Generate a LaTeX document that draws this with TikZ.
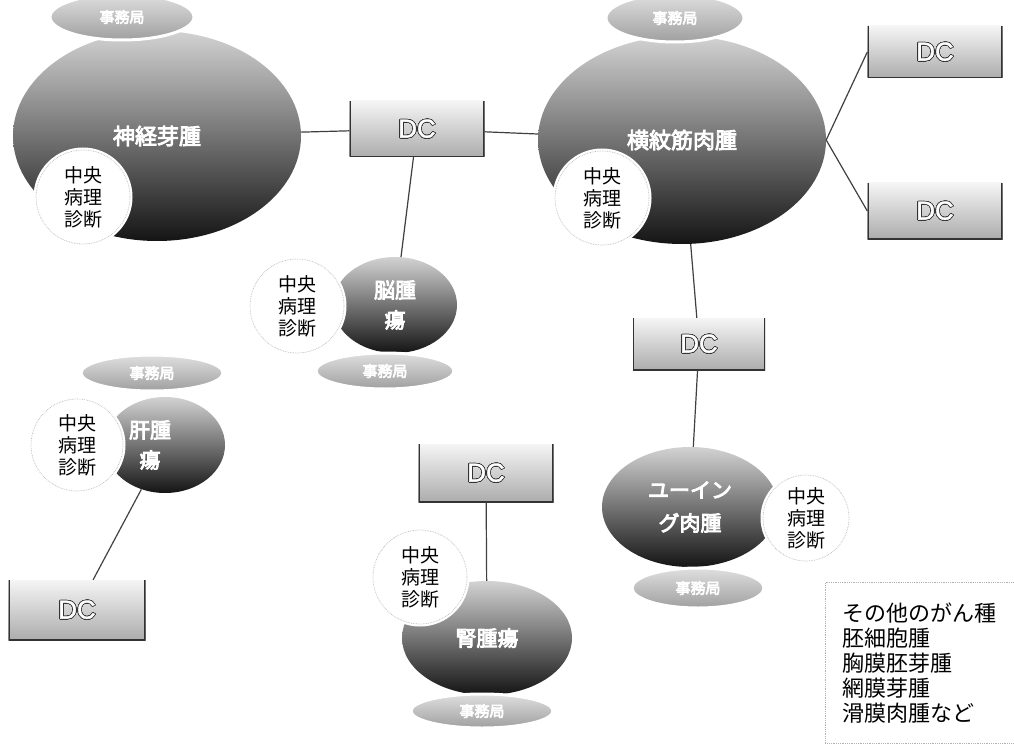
\documentclass[tikz,border=0pt]{standalone}
\usepackage{fontspec}
\usepackage[copies]{contour}
\contourlength{0.7pt}
\newfontfamily\cjk{Noto Sans CJK JP}
\newfontfamily\cjkb{Noto Sans CJK JP}[FakeBold=4]
\newfontfamily\dcfont{Liberation Sans}[FakeBold=1.5]
\usetikzlibrary{shapes.geometric}
\tikzset{
  blob/.style={ellipse, top color=gray!35, bottom color=black!92, text=white,
    font=\cjkb\fontsize{22}{27}\selectfont, inner sep=0pt, align=center},
  office/.style={ellipse, top color=gray!25, bottom color=gray!75, draw=white,
    line width=3pt, text=white, font=\cjkb\fontsize{15}{15}\selectfont, inner sep=0pt},
  patho/.style={circle, fill=white, draw=white, line width=5pt,
    postaction={draw=gray!55, densely dotted, line width=0.7pt},
    text=black, font=\cjk\fontsize{19}{22}\selectfont, align=center,
    inner sep=0pt, minimum size=94pt},
  dcbox/.style={rectangle, top color=gray!8, bottom color=gray!65,
    minimum width=135pt, minimum height=56pt, text=white,
    font=\dcfont\fontsize{26}{26}\selectfont,
    path picture={\draw[gray!40!black, line width=2.5pt]
      (path picture bounding box.north west) -- (path picture bounding box.south west)
      -- (path picture bounding box.south east) -- (path picture bounding box.north east);}},
  conn/.style={draw=gray!50!black, line width=1.2pt},
  otherbox/.style={draw=gray!60, densely dotted, line width=0.8pt, anchor=north west,
    minimum height=161pt, text width=165pt, inner xsep=17pt, align=left,
    font=\cjk\fontsize{22}{25}\selectfont}
}
\newcommand{\dctext}{\contour{gray!40!black}{DC}}
\begin{document}
\begin{tikzpicture}[x=1pt,y=-1pt]
\fill[white, use as bounding box] (0,0) rectangle (1014,746);

% Neuroblastoma
\node[blob, minimum width=288pt, minimum height=210pt] (nb) at (157,136) {神経芽腫};
\node[office, minimum width=144pt, minimum height=46pt] (nbo) at (122,17) {事務局};
\node[patho] (nbp) at (83,197) {中央\\病理\\診断};

% Rhabdomyosarcoma
\node[blob, minimum width=288pt, minimum height=208pt] (rh) at (682,140) {横紋筋肉腫};
\node[office, minimum width=138pt, minimum height=48pt] (rho) at (675,18) {事務局};
\node[patho] (rhp) at (602,198) {中央\\病理\\診断};

% DC boxes
\node[dcbox] (dc1) at (417,129) {\dctext};
\node[dcbox, minimum height=52pt] (dc2) at (935,52) {\dctext};
\node[dcbox, minimum height=56pt] (dc3) at (935,211) {\dctext};
\node[dcbox, minimum width=132pt, minimum height=52pt] (dc4) at (699,344) {\dctext};
\node[dcbox, minimum width=137pt, minimum height=60pt] (dc5) at (77,610) {\dctext};
\node[dcbox, minimum height=58pt] (dc6) at (486,473) {\dctext};

% Brain tumour
\node[blob, font=\cjkb\fontsize{21}{30}\selectfont, minimum width=124pt, minimum height=96pt] (br) at (395,305) {脳腫\\瘍};
\node[office, minimum width=138pt, minimum height=36pt] (bro) at (385,371) {事務局};
\node[patho] (brp) at (297,306) {中央\\病理\\診断};

% Liver tumour
\node[blob, font=\cjkb\fontsize{21}{30}\selectfont, minimum width=120pt, minimum height=96pt] (lv) at (165,445) {肝腫\hspace*{30pt}\\瘍\hspace*{30pt}};
\node[office, minimum width=142pt, minimum height=36pt] (lvo) at (152,373) {事務局};
\node[patho, minimum size=92pt] (lvp) at (77,445) {中央\\病理\\診断};

% Ewing sarcoma
\node[blob, font=\cjkb\fontsize{21}{33}\selectfont, minimum width=176pt, minimum height=120pt] (ew) at (690,507) {ユーイン\\グ肉腫};
\node[office, minimum width=132pt, minimum height=40pt] (ewo) at (698,588) {事務局};
\node[patho, minimum size=86pt] (ewp) at (806,518) {中央\\病理\\診断};

% Kidney tumour
\node[blob, font=\cjkb\fontsize{21}{26}\selectfont, minimum width=170pt, minimum height=114pt] (kd) at (487,638) {腎腫瘍};
\node[office, minimum width=142pt, minimum height=34pt] (kdo) at (482,711) {事務局};
\node[patho] (kdp) at (420,577) {中央\\病理\\診断};

% Other tumour types
\node[otherbox] (other) at (825,582) {その他のがん種\\胚細胞腫\\胸膜胚芽腫\\網膜芽腫\\滑膜肉腫など};

% Connectors
\draw[conn] (nb) -- (dc1);
\draw[conn] (dc1) -- (rh);
\draw[conn] (dc1) -- (br);
\draw[conn] (rh.east) -- (dc2.west);
\draw[conn] (rh.east) -- (dc3.west);
\draw[conn] (rh) -- (dc4);
\draw[conn] (dc4) -- (ew);
\draw[conn] (lv) -- (dc5);
\draw[conn] (dc6) -- (kd);
\end{tikzpicture}
\end{document}
